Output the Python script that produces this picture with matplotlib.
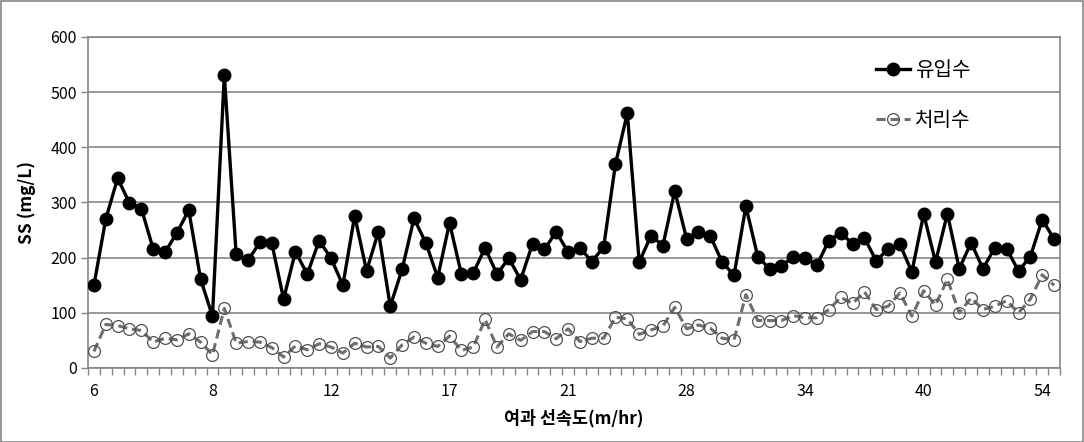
import matplotlib
matplotlib.use("Agg")
import matplotlib.pyplot as plt
import numpy as np

plt.rcParams['font.family'] = ['Noto Sans CJK KR', 'DejaVu Sans']

# --- data -------------------------------------------------------------
inflow = [150, 270, 344, 299, 289, 216, 210, 245, 286, 161, 94, 531, 206, 195, 228, 227, 125, 211, 170, 231,
          199, 150, 276, 176, 247, 112, 179, 271, 227, 164, 263, 170, 172, 218, 170, 199, 160, 225, 215, 247,
          210, 218, 193, 219, 370, 462, 192, 240, 222, 321, 234, 247, 239, 192, 168, 293, 202, 180, 185, 202,
          199, 187, 231, 245, 225, 236, 194, 216, 224, 174, 279, 192, 280, 180, 227, 180, 218, 216, 176, 202, 269, 234]
treated = [30, 79, 77, 71, 68, 47, 54, 51, 62, 47, 24, 108, 45, 48, 47, 37, 20, 40, 33, 44,
           38, 27, 45, 38, 39, 18, 42, 56, 45, 39, 58, 32, 38, 88, 38, 62, 50, 66, 66, 53,
           71, 48, 54, 54, 92, 89, 61, 69, 76, 110, 71, 78, 72, 54, 51, 133, 86, 86, 86, 95,
           91, 91, 106, 128, 117, 138, 106, 112, 136, 94, 140, 114, 161, 100, 127, 106, 112, 122, 100, 125, 169, 150]
tick_labels = ['6', '8', '12', '17', '21', '28', '34', '40', '54']
tick_every = 10
series_names = ['유입수', '처리수']
y_label = 'SS (mg/L)'
x_label = '여과 선속도(m/hr)'

# --- figure -------------------------------------------------------------
W, H = 1084, 442
fig = plt.figure(figsize=(W / 100, H / 100), dpi=100)
ax = fig.add_axes([88 / W, 1 - 368 / H, (1060 - 88) / W, (368 - 37) / H])

x = np.arange(len(inflow))
grid_c = '#868686'

ax.plot(x, inflow, color='black', lw=2.4, marker='o', ms=9, mfc='black', mec='black',
        label=series_names[0], zorder=4)
ax.plot(x, treated, color='#6e6e6e', lw=2.2, ls=(0, (3, 1.6)), marker='o', ms=8.5,
        mfc='none', mec='#505050', mew=0.9, label=series_names[1], zorder=3)

ax.set_xlim(-0.5, len(inflow) - 0.5)
ax.set_ylim(0, 600)
ax.set_yticks(np.arange(0, 601, 100))
ax.yaxis.grid(True, color=grid_c, lw=1.2)
ax.set_axisbelow(True)

ax.set_xticks(np.arange(0, len(inflow), tick_every))
ax.set_xticklabels(tick_labels)
ax.set_xticks(np.arange(-0.5, len(inflow), 1), minor=True)
ax.tick_params(axis='x', which='major', length=0, pad=11, labelsize=11.5)
ax.tick_params(axis='x', which='minor', length=5, width=1, color=grid_c, direction='out')
ax.tick_params(axis='y', length=5, width=1, color=grid_c, direction='out', pad=3, labelsize=11.5)

for s in ax.spines.values():
    s.set_color(grid_c)
    s.set_linewidth(1.2)

ax.set_ylabel(y_label, fontsize=12.5, fontweight='bold', labelpad=10)
ax.set_xlabel(x_label, fontsize=12.5, fontweight='bold', labelpad=6)

leg = ax.legend(loc='upper left', bbox_to_anchor=(0.8107, 0.93), frameon=False, borderpad=0,
                borderaxespad=0, fontsize=14.5, handlelength=1.7, labelspacing=1.45,
                handletextpad=0.25)

# outer chart border
fig.patches.append(plt.Rectangle((0.5 / W, 0.5 / H), 1 - 1.5 / W, 1 - 1.5 / H,
                                 transform=fig.transFigure, fill=False,
                                 edgecolor=grid_c, lw=1.2))

fig.savefig('out.png', dpi=100)
